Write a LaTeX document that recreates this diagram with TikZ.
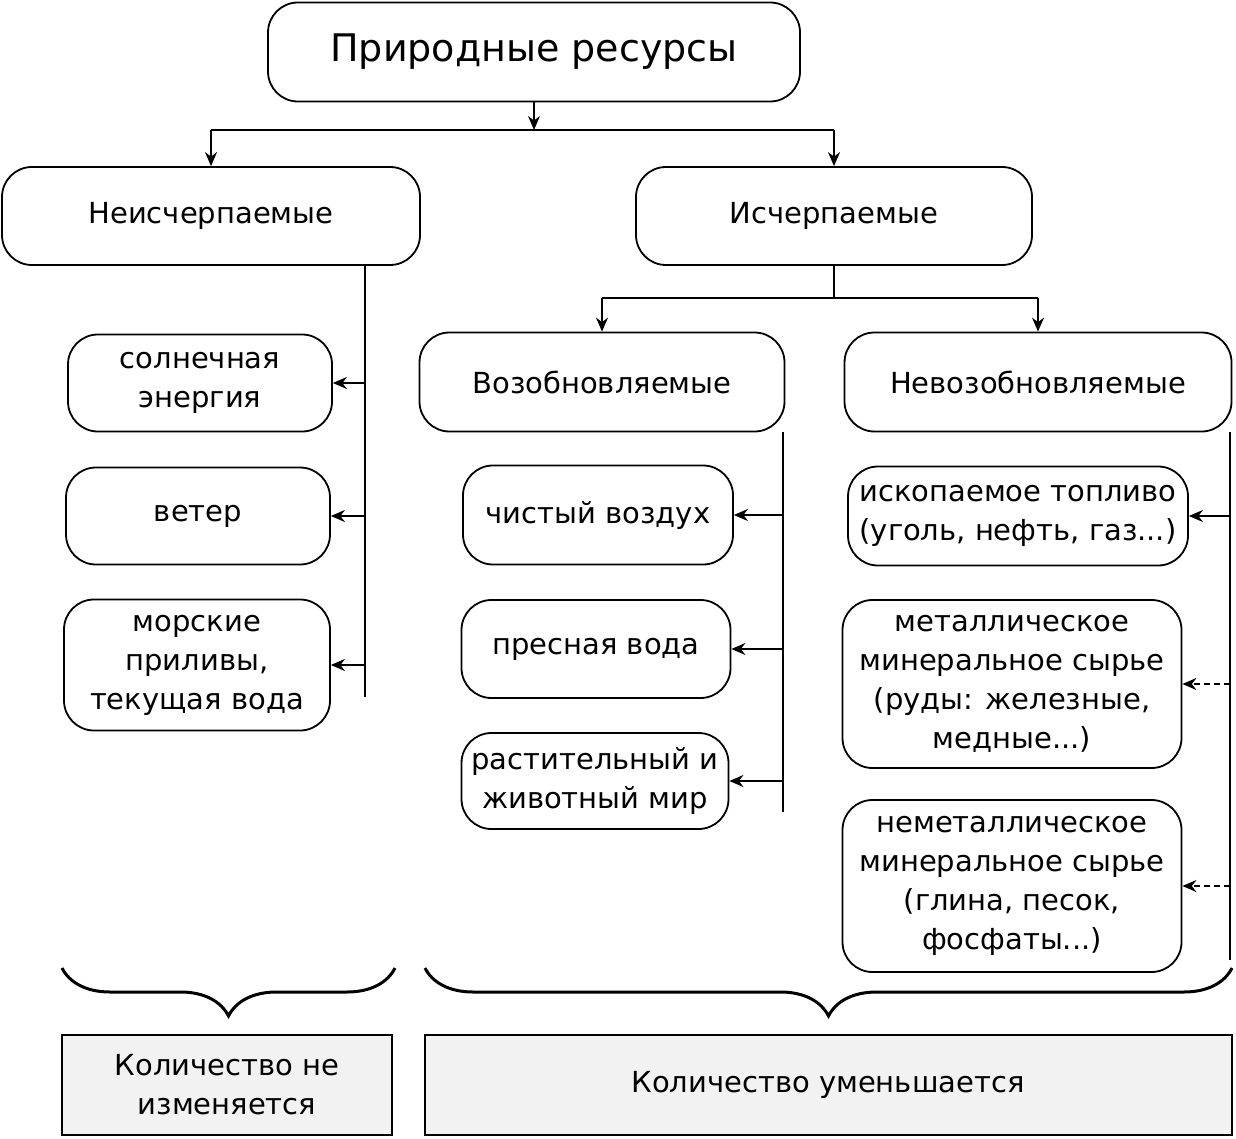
\documentclass[tikz,border=0pt]{standalone}
\usepackage{fontspec}
\setmainfont{DejaVu Sans}
\usetikzlibrary{arrows.meta, decorations.pathreplacing}

\begin{document}
\begin{tikzpicture}[x=0.5pt, y=-0.5pt,
    res/.style={rectangle, draw, line width=0.9pt, rounded corners=15pt, align=center, inner sep=2pt, font=\fontsize{14.5}{19.5}\selectfont},
    total/.style={rectangle, draw, line width=1pt, fill=black!5, align=center, inner sep=2pt, font=\fontsize{14.5}{19.5}\selectfont},
    arrow/.style={-{Stealth[length=7pt, width=6pt]}, line width=0.7pt},
    dasharrow/.style={arrow, dash pattern=on 3pt off 2pt},
    link/.style={line width=0.7pt},
    curly/.style={decorate, decoration={brace, mirror, amplitude=24pt}, line width=1.5pt}
]
\useasboundingbox (0,0) rectangle (1236,1139);
\node[res, minimum width=266pt, minimum height=49.5pt, font=\fontsize{19}{23}\selectfont] (root) at (534,52) {Природные ресурсы};
\node[res, minimum width=209pt, minimum height=49pt] (nonexh) at (211,216) {Неисчерпаемые};
\node[res, minimum width=198pt, minimum height=49pt] (exh) at (834,216) {Исчерпаемые};
\node[res, minimum width=132pt, minimum height=48.5pt] (sun) at (200,383) {солнечная\\энергия};
\node[res, minimum width=132pt, minimum height=48.5pt] (wind) at (198,516) {ветер};
\node[res, minimum width=133pt, minimum height=65.5pt] (sea) at (197,665) {морские\\приливы,\\текущая вода};
\node[res, minimum width=182.5pt, minimum height=49.5pt] (renew) at (602,382) {Возобновляемые};
\node[res, minimum width=193.5pt, minimum height=49.5pt] (nonrenew) at (1038,382) {Невозобновляемые};
\node[res, minimum width=135pt, minimum height=49.5pt] (air) at (598,515) {чистый воздух};
\node[res, minimum width=134.5pt, minimum height=49pt] (water) at (596,649) {пресная вода};
\node[res, minimum width=133.5pt, minimum height=48pt] (bio) at (595,781) {растительный и\\животный мир};
\node[res, minimum width=170pt, minimum height=49.5pt] (fuel) at (1018,516) {ископаемое топливо\\(уголь, нефть, газ...)};
\node[res, minimum width=169.5pt, minimum height=84pt] (metal) at (1012,684) {металлическое\\минеральное сырье\\(руды: железные,\\медные...)};
\node[res, minimum width=169.5pt, minimum height=86pt] (nonmetal) at (1012,886) {неметаллическое\\минеральное сырье\\(глина, песок,\\фосфаты...)};
\node[total, minimum width=165pt, minimum height=50pt] (same) at (227,1085) {Количество не\\изменяется};
\node[total, minimum width=403.5pt, minimum height=50pt] (less) at (828,1085) {Количество уменьшается};

\coordinate (top) at (534,130);
\coordinate (mid) at (834,298);
\coordinate (lx) at (365,697);
\coordinate (rx) at (783,812);
\coordinate (nx) at (1230,960);

\draw[arrow] (root) -- (top);
\draw[link] (nonexh.north |- top) -- (exh.north |- top);
\draw[arrow] (nonexh.north |- top) -- (nonexh.north);
\draw[arrow] (exh.north |- top) -- (exh.north);

\draw[link] (nonexh.south -| lx) -- (lx);
\draw[arrow] (sun -| lx) -- (sun.east);
\draw[arrow] (wind -| lx) -- (wind.east);
\draw[arrow] (sea -| lx) -- (sea.east);

\draw[link] (exh) -- (mid);
\draw[link] (renew.north |- mid) -- (nonrenew.north |- mid);
\draw[arrow] (renew.north |- mid) -- (renew.north);
\draw[arrow] (nonrenew.north |- mid) -- (nonrenew.north);

\draw[link] (renew.south -| rx) -- (rx);
\draw[arrow] (air -| rx) -- (air.east);
\draw[arrow] (water -| rx) -- (water.east);
\draw[arrow] (bio -| rx) -- (bio.east);

\draw[link] (nonrenew.south -| nx) -- (nx);
\draw[arrow] (fuel -| nx) -- (fuel.east);
\draw[dasharrow] (metal -| nx) -- (metal.east);
\draw[dasharrow] (nonmetal -| nx) -- (nonmetal.east);

\draw[curly] (62,968) -- (395,968);
\draw[curly] (425,968) -- (1232,968);
\end{tikzpicture}
\end{document}
